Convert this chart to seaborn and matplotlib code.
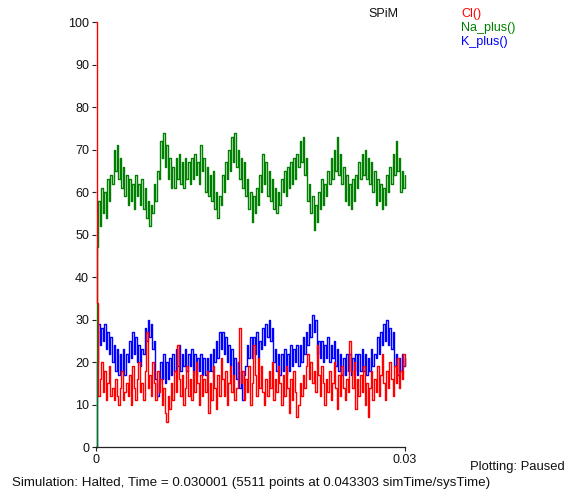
import numpy as np
import pandas as pd
import matplotlib
matplotlib.use("Agg")
import matplotlib.pyplot as plt
import seaborn as sns

# ---- data ----
t_start = 0.0
t_first = 0.00005
t_end = 0.03
n_samples = 200

na_start = 0
na_plus = [47, 58, 52, 61, 55, 60, 54, 63, 58, 64,
           62, 70, 65, 71, 63, 68, 61, 66, 59, 64,
           57, 63, 58, 62, 56, 64, 59, 62, 57, 63,
           56, 61, 54, 58, 52, 57, 55, 62, 58, 65,
           63, 72, 68, 74, 66, 71, 63, 68, 61, 66,
           61, 68, 63, 69, 62, 67, 61, 68, 63, 67,
           62, 68, 63, 69, 64, 67, 62, 71, 65, 68,
           60, 66, 59, 64, 58, 65, 56, 60, 54, 59,
           57, 64, 60, 67, 63, 70, 65, 73, 67, 74,
           66, 70, 63, 68, 61, 67, 59, 63, 56, 60,
           53, 59, 55, 61, 57, 64, 60, 69, 62, 67,
           59, 65, 58, 63, 56, 61, 55, 60, 57, 63,
           60, 65, 59, 66, 61, 67, 62, 68, 63, 69,
           66, 72, 67, 73, 64, 68, 58, 62, 55, 59,
           51, 57, 53, 60, 56, 63, 57, 62, 59, 65,
           62, 68, 63, 70, 65, 73, 64, 69, 62, 66,
           58, 64, 57, 62, 56, 63, 58, 64, 61, 67,
           63, 69, 64, 70, 63, 68, 62, 67, 60, 65,
           57, 63, 58, 62, 56, 61, 57, 64, 60, 66,
           62, 69, 64, 72, 65, 68, 60, 65, 61, 64]

k_start = 0
k_plus = [20, 29, 24, 28, 25, 29, 23, 27, 22, 26,
          20, 24, 18, 23, 17, 22, 18, 23, 17, 22,
          20, 25, 21, 27, 22, 26, 20, 24, 19, 23,
          22, 28, 25, 30, 26, 29, 23, 25, 16, 12,
          15, 20, 16, 22, 15, 20, 16, 21, 17, 22,
          18, 23, 19, 24, 18, 22, 19, 23, 18, 22,
          19, 23, 18, 22, 17, 21, 18, 22, 17, 21,
          17, 21, 18, 22, 18, 23, 20, 25, 21, 27,
          23, 27, 22, 26, 20, 24, 19, 23, 17, 21,
          16, 20, 14, 18, 11, 17, 19, 24, 21, 26,
          21, 26, 22, 27, 21, 25, 23, 28, 24, 29,
          26, 30, 25, 28, 20, 23, 18, 22, 17, 22,
          18, 23, 17, 22, 18, 24, 19, 23, 20, 24,
          19, 24, 20, 26, 22, 27, 24, 29, 26, 31,
          27, 30, 22, 25, 21, 25, 20, 24, 21, 26,
          20, 24, 21, 25, 19, 23, 18, 22, 17, 21,
          17, 22, 18, 22, 17, 21, 18, 22, 17, 22,
          18, 23, 18, 22, 17, 21, 18, 23, 19, 22,
          21, 26, 22, 27, 24, 29, 25, 30, 24, 28,
          23, 27, 19, 22, 17, 21, 18, 22, 19, 21]

cl_start = 100
cl = [34, 12, 16, 20, 13, 18, 11, 15, 19, 12,
      14, 11, 16, 12, 10, 14, 18, 11, 13, 15,
      12, 17, 10, 19, 14, 11, 16, 20, 13, 15,
      11, 18, 27, 14, 17, 12, 20, 15, 11, 18,
      13, 16, 10, 14, 8, 6, 12, 9, 15, 11,
      18, 13, 24, 16, 12, 17, 10, 14, 19, 12,
      16, 11, 18, 13, 20, 15, 10, 17, 12, 16,
      13, 18, 8, 15, 11, 19, 14, 9, 17, 12,
      21, 16, 12, 18, 10, 15, 19, 13, 17, 11,
      14, 20, 28, 15, 18, 11, 16, 13, 19, 10,
      15, 24, 17, 12, 21, 14, 19, 13, 10, 16,
      12, 18, 14, 20, 11, 16, 13, 19, 15, 10,
      17, 12, 19, 14, 8, 16, 11, 18, 13, 7,
      10, 15, 12, 17, 14, 19, 22, 16, 20, 15,
      18, 13, 24, 17, 12, 19, 15, 10, 16, 13,
      18, 11, 15, 20, 14, 9, 17, 12, 19, 14,
      11, 16, 13, 25, 18, 14, 20, 9, 16, 12,
      17, 13, 19, 10, 15, 7, 14, 18, 11, 16,
      13, 19, 12, 17, 22, 15, 11, 18, 14, 20,
      16, 12, 19, 15, 21, 14, 18, 16, 22, 19]

series_names = ["Cl()", "Na_plus()", "K_plus()"]
series_colors = ["#ff0000", "#008000", "#0000ff"]
y_ticks = [0, 10, 20, 30, 40, 50, 60, 70, 80, 90, 100]
x_ticks = [0, 0.03]
x_tick_labels = ["0", "0.03"]
status_text = "Simulation: Halted, Time = 0.030001 (5511 points at 0.043303 simTime/sysTime)"
plot_state = "Plotting: Paused"

# ---- build table ----
time = np.concatenate([[t_start], np.linspace(t_first, t_end, n_samples)])
df = pd.DataFrame({
    "time": time,
    "Cl()": [cl_start] + cl,
    "Na_plus()": [na_start] + na_plus,
    "K_plus()": [k_start] + k_plus,
})

sns.set_style("white")
plt.rcParams["font.family"] = ["Liberation Sans", "DejaVu Sans"]

W, H = 567, 494
fig = plt.figure(figsize=(W / 100, H / 100), dpi=100)
ax = fig.add_axes([96 / W, 1 - 447 / H, (405 - 96) / W, (447 - 22) / H])

color_map = dict(zip(series_names, series_colors))
for name in ["K_plus()", "Na_plus()", "Cl()"]:
    sns.lineplot(data=df, x="time", y=name, ax=ax, color=color_map[name],
                 linewidth=1.0, estimator=None, sort=False,
                 drawstyle="steps-post", clip_on=False)

ax.set_xlim(0, 0.03)
ax.set_ylim(0, 100)
ax.set_xticks(x_ticks)
ax.set_xticklabels(x_tick_labels)
ax.set_yticks(y_ticks)
ax.set_xlabel("")
ax.set_ylabel("")
for s in ["top", "right", "left"]:
    ax.spines[s].set_visible(False)
ax.spines["bottom"].set_color("#222222")
ax.spines["bottom"].set_linewidth(0.9)
ax.tick_params(axis="both", direction="out", length=3, width=0.8,
               color="#222222", labelsize=9, labelcolor="#111111", pad=2)
ax.tick_params(axis="y", left=True)
ax.tick_params(axis="x", bottom=True)
ax.set_facecolor("white")

def ftext(x, y, s, size=9, **kw):
    fig.text(x / W, 1 - y / H, s, fontsize=size, va="center", **kw)

ftext(368, 14, "SPiM", color="#111111", ha="left")
ftext(461, 14, series_names[0], color=series_colors[0], ha="left")
ftext(461, 28, series_names[1], color=series_colors[1], ha="left")
ftext(461, 42, series_names[2], color=series_colors[2], ha="left")
ftext(565, 467, plot_state, size=9.4, color="#111111", ha="right")
ftext(12, 483, status_text, size=9.6, color="#111111", ha="left")

fig.savefig("out.png", dpi=100, facecolor="white")
